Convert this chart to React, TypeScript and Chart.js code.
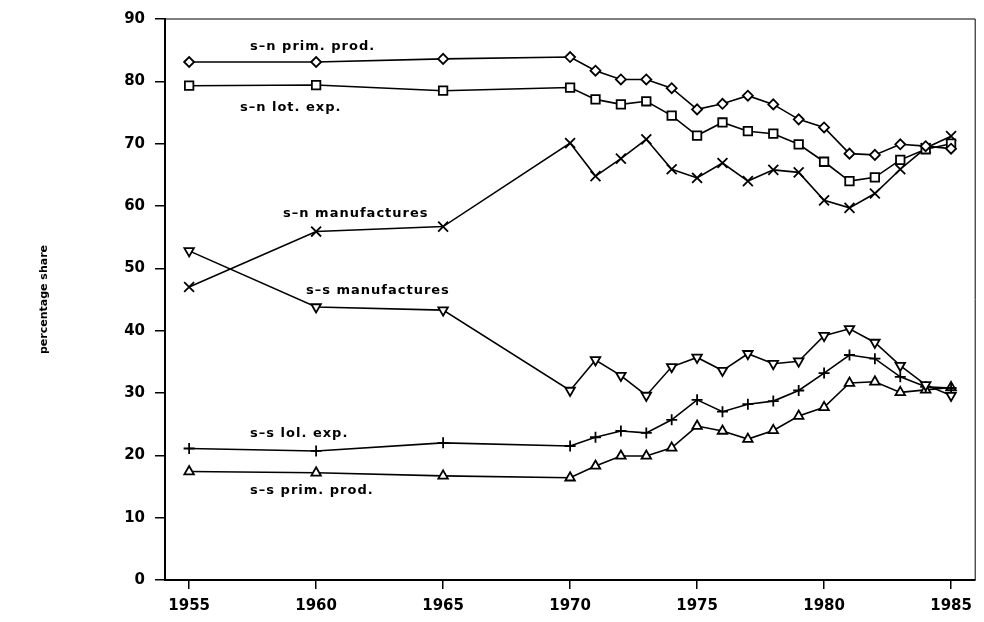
import React, { useEffect, useRef } from "react";
import { Chart, registerables } from "chart.js";

Chart.register(...registerables);

// ---- data ----
const years = [1955, 1960, 1965, 1970, 1971, 1972, 1973, 1974, 1975, 1976, 1977, 1978, 1979, 1980, 1981, 1982, 1983, 1984, 1985];
const snPrimProd = [83.1, 83.1, 83.6, 83.9, 81.7, 80.3, 80.3, 78.9, 75.5, 76.4, 77.7, 76.3, 73.9, 72.6, 68.4, 68.2, 69.9, 69.6, 69.2];
const snTotExp = [79.3, 79.4, 78.5, 79.0, 77.1, 76.3, 76.8, 74.5, 71.3, 73.4, 72.0, 71.6, 69.9, 67.1, 64.0, 64.6, 67.4, 69.1, 70.0];
const snManuf = [47.0, 55.9, 56.7, 70.1, 64.8, 67.6, 70.7, 65.9, 64.5, 66.9, 64.0, 65.8, 65.4, 60.9, 59.7, 62.0, 65.9, 69.3, 71.2];
const ssManuf = [52.8, 43.8, 43.3, 30.4, 35.3, 32.8, 29.6, 34.2, 35.7, 33.6, 36.3, 34.7, 35.1, 39.2, 40.3, 38.1, 34.4, 31.3, 29.6];
const ssTotExp = [21.1, 20.7, 22.0, 21.5, 22.9, 23.9, 23.6, 25.7, 28.9, 27.0, 28.2, 28.7, 30.4, 33.2, 36.1, 35.5, 32.6, 31.0, 30.8];
const ssPrimProd = [17.4, 17.2, 16.7, 16.4, 18.3, 19.9, 19.9, 21.2, 24.7, 23.9, 22.6, 24.0, 26.3, 27.7, 31.6, 31.8, 30.1, 30.5, 30.9];

const xTicks = [1955, 1960, 1965, 1970, 1975, 1980, 1985];
const yTitle = "percentage share";

// series labels (text, anchor year, anchor value)
const labelTexts = ["s–n prim. prod.", "s–n lot. exp.", "s–n manufactures", "s–s manufactures", "s–s lol. exp.", "s–s prim. prod."];
const labelYears = [1957.4, 1957.0, 1958.7, 1959.6, 1957.4, 1957.4];
const labelValues = [85.5, 75.8, 58.7, 46.4, 23.5, 14.3];

const FONT = "'DejaVu Sans', sans-serif";

const frameAndLabels = {
  id: "frameAndLabels",
  afterDatasetsDraw(chart: any) {
    const { ctx, chartArea, scales } = chart;
    ctx.save();
    ctx.strokeStyle = "#000";
    ctx.lineWidth = 1;
    ctx.beginPath();
    ctx.moveTo(chartArea.left, chartArea.top);
    ctx.lineTo(chartArea.right, chartArea.top);
    ctx.lineTo(chartArea.right, chartArea.bottom);
    ctx.stroke();
    ctx.fillStyle = "#000";
    ctx.font = `bold 13px ${FONT}`;
    try { (ctx as any).letterSpacing = "1px"; } catch (e) {}
    ctx.textAlign = "left";
    ctx.textBaseline = "middle";
    labelTexts.forEach((t, i) => {
      const x = scales.x.getPixelForValue(labelYears[i]);
      const y = scales.y.getPixelForValue(labelValues[i]);
      ctx.fillText(t, x, y);
    });
    ctx.restore();
  },
};

function mkSet(data: number[], style: string, radius: number, rotation = 0) {
  return {
    data: data.map((v, i) => ({ x: years[i], y: v })),
    borderColor: "#000",
    borderWidth: 1.6,
    pointStyle: style,
    pointRadius: radius,
    pointRotation: rotation,
    pointBorderColor: "#000",
    pointBackgroundColor: "#fff",
    pointBorderWidth: 1.8,
    tension: 0,
    fill: false,
  };
}

export default function App() {
  const ref = useRef<HTMLCanvasElement | null>(null);
  useEffect(() => {
    if (!ref.current) return;
    const chart = new Chart(ref.current, {
      type: "line",
      data: {
        datasets: [
          mkSet(snPrimProd, "rectRot", 5),
          mkSet(snTotExp, "rect", 6),
          mkSet(snManuf, "crossRot", 7),
          mkSet(ssManuf, "triangle", 5.5, 180),
          mkSet(ssTotExp, "cross", 5.5),
          mkSet(ssPrimProd, "triangle", 5.5),
        ] as any,
      },
      options: {
        animation: false,
        responsive: false,
        maintainAspectRatio: false,
        layout: { padding: { left: 0, top: 14, right: 4, bottom: 0 } },
        plugins: { legend: { display: false }, tooltip: { enabled: false }, title: { display: false } },
        scales: {
          x: {
            type: "linear",
            min: 1954.05,
            max: 1985.95,
            afterBuildTicks: (axis: any) => {
              axis.ticks = xTicks.map((v) => ({ value: v }));
            },
            afterFit: (s: any) => { s.height = 42; },
            ticks: {
              color: "#000",
              font: { family: FONT, size: 15, weight: "bold" },
              padding: 8,
              maxRotation: 0,
              autoSkip: false,
              callback: (v: any) => String(v),
            },
            grid: { drawOnChartArea: false, drawTicks: true, tickLength: 9, color: "#000", lineWidth: 1.5 },
            border: { display: true, color: "#000", width: 2 },
          },
          y: {
            type: "linear",
            min: 0,
            max: 90,
            afterFit: (s: any) => { s.width = 165; },
            ticks: {
              stepSize: 10,
              color: "#000",
              font: { family: FONT, size: 15, weight: "bold" },
              padding: 10,
            },
            title: {
              display: true,
              text: yTitle,
              color: "#000",
              font: { family: FONT, size: 11, weight: "bold" },
              padding: { top: 38, bottom: 0 },
            },
            grid: { drawOnChartArea: false, drawTicks: true, tickLength: 10, color: "#000", lineWidth: 1.5 },
            border: { display: true, color: "#000", width: 2 },
          },
        },
      },
      plugins: [frameAndLabels],
    });
    return () => chart.destroy();
  }, []);
  return (
    <div style={{ position: "fixed", left: 0, top: 0, width: 984, height: 622, background: "#fff" }}>
      <canvas ref={ref} width={984} height={622} style={{ display: "block" }} />
    </div>
  );
}
